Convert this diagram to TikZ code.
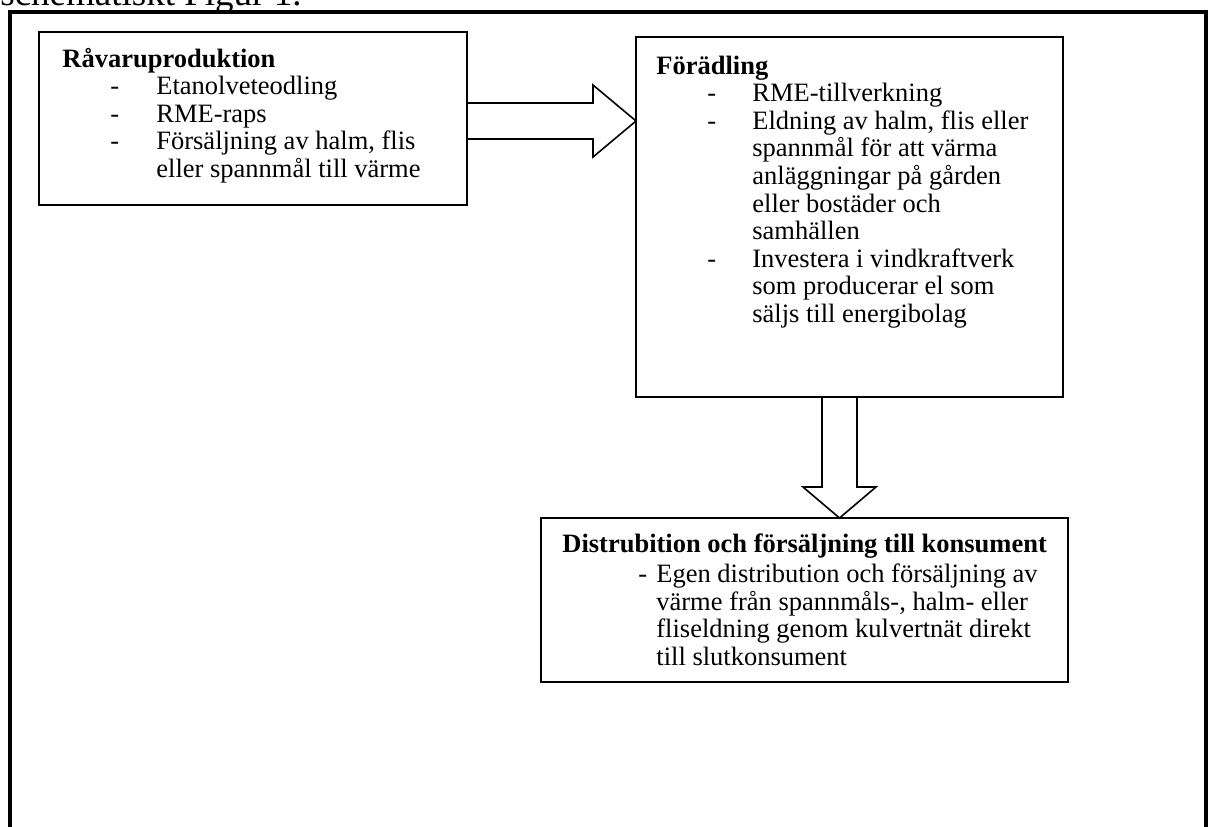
\documentclass[tikz,border=0pt]{standalone}
\usepackage{fontspec}
\setmainfont{Liberation Serif}
\usetikzlibrary{calc}
\tikzset{
  boxnode/.style={draw, line width=1pt, anchor=north west, inner sep=0pt, outer sep=0pt},
  framestroke/.style={line width=2pt},
  arrowshape/.style={draw, line width=0.8pt, line join=miter},
  txt/.style={anchor=base west, inner sep=0pt, font=\fontsize{13.25pt}{13.8pt}\selectfont}
}
\begin{document}
\begin{tikzpicture}[x=0.5pt,y=-0.5pt]
\useasboundingbox (0,0) rectangle (1209,826);
\clip (0,0) rectangle (1209,826);
% caption remnant
\node[anchor=base west, inner sep=0pt, font=\fontsize{18.5pt}{20pt}\selectfont] (cap) at (0,5) {schematiskt Figur 1.};
% outer frame
\coordinate (fbl) at (10,830);
\coordinate (ftl) at (10,12);
\coordinate (ftr) at (1206,12);
\coordinate (fbr) at (1206,830);
\draw[framestroke] (fbl) -- (ftl) -- (ftr) -- (fbr);
% boxes
\node[boxnode, minimum width=214pt, minimum height=86.5pt] (b1) at (39,32) {};
\node[boxnode, minimum width=213.5pt, minimum height=180pt] (b2) at (636,37) {};
\node[boxnode, minimum width=263.5pt, minimum height=82pt] (b3) at (541,518) {};
% right arrow
\coordinate (tipA) at (b2.west |- 0,121);
\draw[arrowshape] ($(b1.east |- tipA)+(0,-18)$) -- ($(tipA)+(-43,-18)$) -- ($(tipA)+(-43,-36)$) -- (tipA)
  -- ($(tipA)+(-43,36)$) -- ($(tipA)+(-43,18)$) -- ($(b1.east |- tipA)+(0,18)$);
% down arrow
\coordinate (tipB) at (b3.north -| 839.5,0);
\draw[arrowshape] ($(b2.south -| tipB)+(-17.5,0)$) -- ($(tipB)+(-17.5,-31)$) -- ($(tipB)+(-36.5,-31)$) -- (tipB)
  -- ($(tipB)+(36.5,-31)$) -- ($(tipB)+(17.5,-31)$) -- ($(b2.south -| tipB)+(17.5,0)$);
% texts
\node[txt] (t1) at (62,67) {\begin{tabular}[t]{@{}p{24pt}@{}p{23pt}@{}l@{}}
\multicolumn{3}{@{}l@{}}{\textbf{Råvaruproduktion}}\\
 & - & Etanolveteodling\\
 & - & RME-raps\\
 & - & Försäljning av halm, flis\\
 & & eller spannmål till värme
\end{tabular}};
\node[txt] (t2) at (656,74) {\begin{tabular}[t]{@{}p{25.5pt}@{}p{22.5pt}@{}l@{}}
\multicolumn{3}{@{}l@{}}{\textbf{Förädling}}\\
 & - & RME-tillverkning\\
 & - & Eldning av halm, flis eller\\
 & & spannmål för att värma\\
 & & anläggningar på gården\\
 & & eller bostäder och\\
 & & samhällen\\
 & - & Investera i vindkraftverk\\
 & & som producerar el som\\
 & & säljs till energibolag
\end{tabular}};
\node[txt] (t3) at (562,552) {\begin{tabular}[t]{@{}p{38pt}@{}p{9pt}@{}l@{}}
\multicolumn{3}{@{}l@{}}{\textbf{Distrubition och försäljning till konsument}}\\[1.5pt]
 & - & Egen distribution och försäljning av\\
 & & värme från spannmåls-, halm- eller\\
 & & fliseldning genom kulvertnät direkt\\
 & & till slutkonsument
\end{tabular}};
\end{tikzpicture}
\end{document}
